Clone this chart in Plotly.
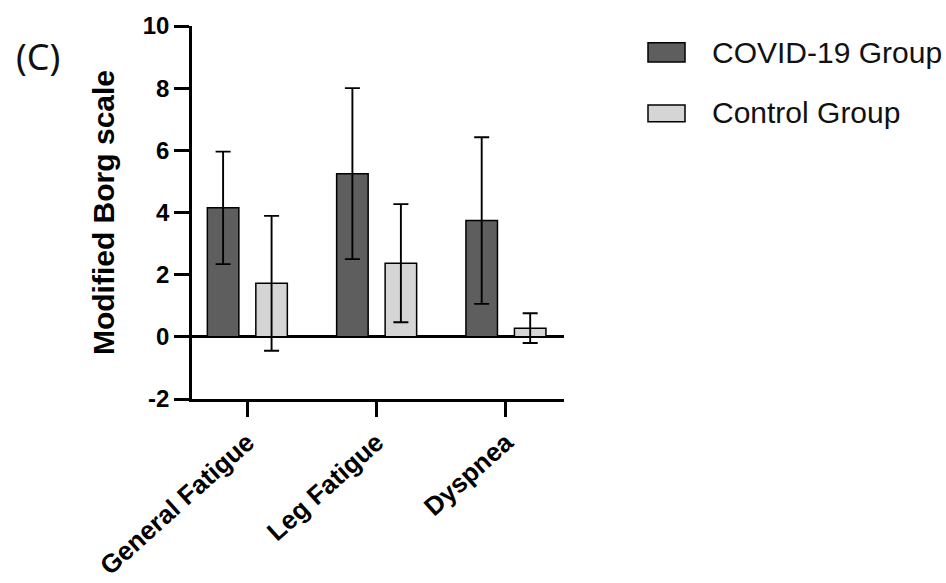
import plotly.graph_objects as go

# ---- data ----
categories = ["General Fatigue", "Leg Fatigue", "Dyspnea"]
series_names = ["COVID-19 Group", "Control Group"]
covid_mean = [4.15, 5.25, 3.74]
covid_sd = [1.81, 2.75, 2.68]
control_mean = [1.72, 2.37, 0.28]
control_sd = [2.17, 1.90, 0.48]
y_ticks = [-2, 0, 2, 4, 6, 8, 10]
y_ticktext = [str(v) for v in y_ticks]
y_title = "Modified Borg scale"
panel_label = "(C)"

dark = "#5e5e5e"
light = "#d5d5d5"
colors = [dark, light]

fig = go.Figure()
for name, mean, sd, col in [(series_names[0], covid_mean, covid_sd, dark),
                            (series_names[1], control_mean, control_sd, light)]:
    fig.add_trace(go.Bar(
        name=name, x=categories, y=mean,
        marker=dict(color=col, line=dict(color="black", width=1.5)),
        error_y=dict(type="data", array=sd, visible=True, color="black",
                     thickness=1.9, width=7.5),
        showlegend=False,
    ))

FONT = "Liberation Sans, Arial, sans-serif"

fig.update_layout(
    template="none",
    width=946, height=583,
    margin=dict(l=192, r=382, t=26, b=184, pad=0),
    paper_bgcolor="white", plot_bgcolor="white",
    barmode="group", bargap=0.25, bargroupgap=0.35,
    showlegend=False,
    xaxis=dict(
        type="category", range=[-0.428, 2.449], automargin=False,
        showline=True, linecolor="black", linewidth=2.7,
        ticks="outside", ticklen=15, tickwidth=2.7, tickcolor="black",
        tickangle=-42, tickfont=dict(family=FONT, size=26, color="black", weight="bold"),
        showgrid=False, zeroline=False,
    ),
    yaxis=dict(
        range=[-2, 10], tickvals=y_ticks, ticktext=y_ticktext, automargin=False,
        showline=True, linecolor="black", linewidth=2.7,
        ticks="outside", ticklen=15, tickwidth=2.7, tickcolor="black",
        tickfont=dict(family=FONT, size=24, color="black", weight="bold"),
        showgrid=False,
        zeroline=True, zerolinecolor="black", zerolinewidth=2.7,
        title=dict(text=y_title, standoff=20,
                   font=dict(family=FONT, size=30, color="black", weight="bold")),
    ),
)

# custom legend (large rectangular swatches as in the reference)
legend_rows = [(0.930, 0.9552, 0.9035), (0.7668, 0.7882, 0.7434)]
for (ytext, y1, y0), name, col in zip(legend_rows, series_names, colors):
    fig.add_shape(type="rect", xref="paper", yref="paper",
                  x0=1.2258, x1=1.3253, y0=y0, y1=y1,
                  fillcolor=col, line=dict(color="black", width=1.5))
    fig.add_annotation(xref="paper", yref="paper", x=1.3925, y=ytext,
                       xanchor="left", yanchor="middle", showarrow=False,
                       text=name,
                       font=dict(family=FONT, size=30, color="#111111"))

fig.add_annotation(xref="paper", yref="paper", x=-0.414, y=0.917,
                   xanchor="center", yanchor="middle", showarrow=False,
                   text=panel_label,
                   font=dict(family="Noto Sans, sans-serif", size=36, color="#111111"))

fig.write_html("out.html")
